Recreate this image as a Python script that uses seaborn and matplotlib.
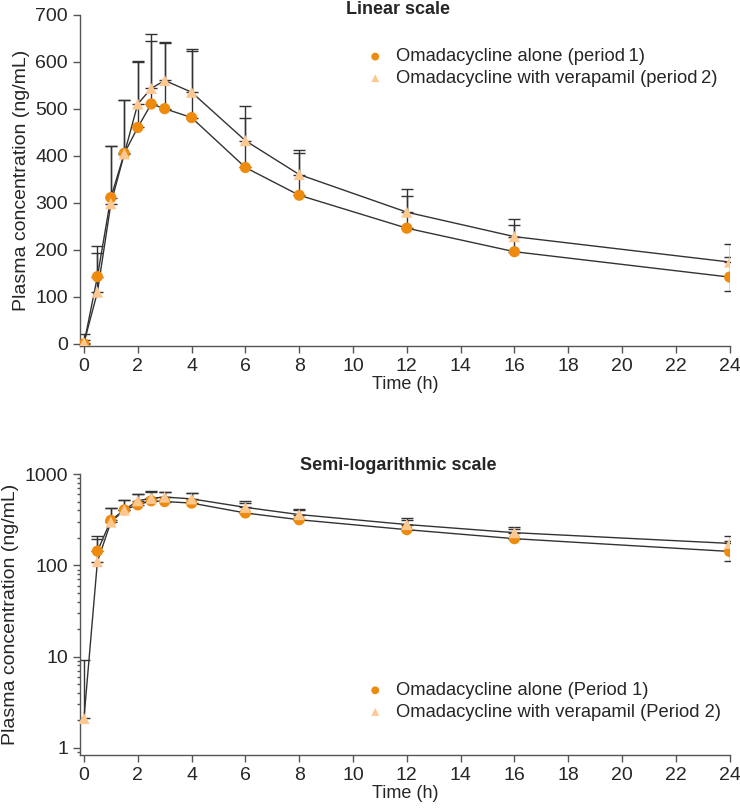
import numpy as np
import pandas as pd
import matplotlib
matplotlib.use("Agg")
import matplotlib.pyplot as plt
from matplotlib.ticker import LogLocator, NullFormatter, FixedLocator
import seaborn as sns

# data
time_h = [0, 0.5, 1, 1.5, 2, 2.5, 3, 4, 6, 8, 12, 16, 24]
conc_p1 = [0, 143, 311, 405, 460, 510, 500, 481, 375, 316, 246, 196, 142]
conc_p2 = [2.1, 110, 298, 404, 510, 543, 560, 535, 432, 360, 280, 228, 174]
sd_up_p1 = [20, 65, 109, 113, 140, 133, 140, 145, 106, 89, 69, 56, 43]
sd_lo_p1 = [0, 0, 0, 0, 0, 0, 0, 0, 0, 0, 0, 0, 30]
sd_up_p2 = [7, 83, 122, 114, 91, 115, 81, 87, 74, 53, 50, 37, 38]

labels_lin = ["Omadacycline alone (period\u20091)", "Omadacycline with verapamil (period\u20092)"]
labels_log = ["Omadacycline alone (Period 1)", "Omadacycline with verapamil (Period 2)"]
colors = ["#EE8A0E", "#FDC790"]

sns.set_theme(style="ticks")
plt.rcParams["font.family"] = ["Liberation Sans", "DejaVu Sans"]

fig = plt.figure(figsize=(7.4, 8.09), dpi=100)
ax1 = fig.add_axes([0.108, 0.572, 0.878, 0.41])
ax2 = fig.add_axes([0.108, 0.067, 0.878, 0.347])

df = pd.DataFrame({
    "time": time_h * 2,
    "conc": conc_p1 + conc_p2,
    "group": ["p1"] * len(time_h) + ["p2"] * len(time_h),
})


def draw(ax, log, labels):
    d = df.copy()
    t1, c1, lo1, up1 = time_h, conc_p1, sd_lo_p1, sd_up_p1
    if log:
        d = d[d["conc"] > 0]
        t1, c1, lo1, up1 = time_h[1:], conc_p1[1:], sd_lo_p1[1:], sd_up_p1[1:]
    # error bars
    ax.errorbar(t1, c1, yerr=[lo1, up1], fmt="none",
                ecolor="#333333", elinewidth=1, capsize=4, capthick=1, zorder=1)
    ax.errorbar(time_h, conc_p2, yerr=[[0] * len(time_h), sd_up_p2], fmt="none",
                ecolor="#333333", elinewidth=1, capsize=4, capthick=1, zorder=1)
    sns.lineplot(data=d, x="time", y="conc", units="group", estimator=None,
                 color="#333333", linewidth=1, ax=ax, zorder=2, legend=False)
    sns.scatterplot(data=d[d["group"] == "p1"], x="time", y="conc", marker="o",
                    color=colors[0], s=65, edgecolor="none", ax=ax, zorder=3,
                    label=labels[0])
    sns.scatterplot(data=d[d["group"] == "p2"], x="time", y="conc", marker="^",
                    color=colors[1], s=65, edgecolor="none", ax=ax, zorder=4,
                    label=labels[1])

    ax.set_xlim(-0.15, 24)
    ax.set_xticks(range(0, 25, 2))
    ax.set_xlabel("Time (h)", fontsize=13, labelpad=1)
    ax.set_ylabel("Plasma concentration (ng/mL)", fontsize=14, labelpad=4)
    ax.tick_params(labelsize=14, direction="out", length=5, width=1, color="#555555")
    for s in ["left", "bottom"]:
        ax.spines[s].set_color("#555555")
        ax.spines[s].set_linewidth(1)
    sns.despine(ax=ax)


draw(ax1, False, labels_lin)
ax1.set_ylim(-5, 700)
ax1.set_yticks(range(0, 701, 100))
ax1.set_title("Linear scale", fontsize=13, fontweight="bold", pad=4, x=0.49, y=0.985)
ax1.legend(loc="upper left", bbox_to_anchor=(0.415, 0.92), frameon=False,
           fontsize=13.2, handletextpad=0.15, borderaxespad=0, labelspacing=0.25,
           markerscale=0.7)

draw(ax2, True, labels_log)
ax2.set_yscale("log")
ax2.set_ylim(0.84, 1000)
ax2.yaxis.set_major_locator(FixedLocator([1, 10, 100, 1000]))
ax2.set_yticklabels(["1", "10", "100", "1000"])
ax2.yaxis.set_minor_locator(LogLocator(base=10, subs=np.arange(2, 10)))
ax2.yaxis.set_minor_formatter(NullFormatter())
ax2.tick_params(which="minor", length=2.5, color="#555555")
ax2.set_title("Semi-logarithmic scale", fontsize=13, fontweight="bold", pad=2, x=0.49)
ax2.legend(loc="upper left", bbox_to_anchor=(0.415, 0.285), frameon=False,
           fontsize=13.2, handletextpad=0.15, borderaxespad=0, labelspacing=0.25,
           markerscale=0.7)

fig.savefig("out.png", dpi=100)
